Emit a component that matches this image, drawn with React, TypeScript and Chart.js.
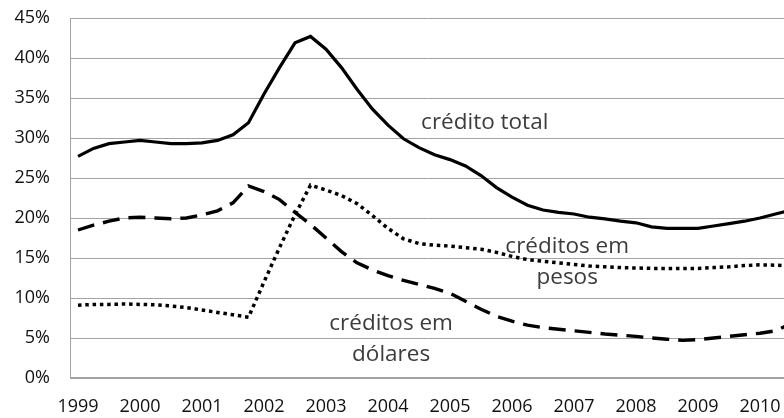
import { useEffect, useRef } from "react";
import { Chart, registerables } from "chart.js";

Chart.register(...registerables);

// Year tick labels (one every 4 quarterly observations)
const years = ["1999", "2000", "2001", "2002", "2003", "2004", "2005", "2006", "2007", "2008", "2009", "2010"];
const firstYear = 1999;

// Quarterly series, % (1999 Q1 ... 2010 Q3)
const creditoTotal = [
  27.7, 28.7, 29.3, 29.5, 29.7, 29.5, 29.3, 29.3, 29.4, 29.7, 30.4, 31.9,
  35.5, 38.8, 41.9, 42.7, 41.1, 38.8, 36.1, 33.6, 31.6, 29.9, 28.8, 27.9,
  27.3, 26.5, 25.3, 23.8, 22.6, 21.6, 21.0, 20.7, 20.5, 20.1, 19.9, 19.6,
  19.4, 18.9, 18.7, 18.7, 18.7, 19.0, 19.3, 19.6, 20.0, 20.5, 21.0,
];
const creditosDolares = [
  18.5, 19.1, 19.6, 20.0, 20.1, 20.0, 19.9, 20.0, 20.4, 20.9, 21.9, 24.0,
  23.3, 22.3, 20.7, 19.2, 17.5, 15.8, 14.4, 13.5, 12.8, 12.2, 11.7, 11.2,
  10.6, 9.6, 8.6, 7.7, 7.1, 6.6, 6.3, 6.1, 5.9, 5.7, 5.5, 5.35,
  5.2, 5.0, 4.85, 4.7, 4.8, 5.0, 5.2, 5.4, 5.6, 5.9, 6.8,
];
const creditosPesos = [
  9.1, 9.2, 9.2, 9.25, 9.2, 9.15, 9.0, 8.8, 8.5, 8.2, 7.9, 7.6,
  12.0, 16.3, 20.4, 24.1, 23.5, 22.8, 21.8, 20.3, 18.7, 17.4, 16.8, 16.6,
  16.5, 16.3, 16.1, 15.7, 15.2, 14.8, 14.6, 14.4, 14.2, 14.0, 13.9, 13.8,
  13.75, 13.7, 13.7, 13.7, 13.7, 13.8, 13.9, 14.05, 14.15, 14.1, 14.0,
];

// Text annotations placed in data coordinates (year, %)
const noteTexts = [["crédito total"], ["créditos em", "pesos"], ["créditos em", "dólares"]];
const noteYears = [2005.56, 2006.89, 2004.05];
const notePercents = [31.1, 15.6, 6.0];

const FONT = "'Open Sans', 'DejaVu Sans', sans-serif";

const notesPlugin = {
  id: "notes",
  afterDatasetsDraw(chart: any) {
    const { ctx, scales } = chart;
    ctx.save();
    ctx.font = `22.5px ${FONT}`;
    ctx.fillStyle = "#3c3c3c";
    ctx.textAlign = "center";
    ctx.textBaseline = "alphabetic";
    noteTexts.forEach((lines, i) => {
      const x = scales.x.getPixelForValue(noteYears[i]);
      const y = scales.y.getPixelForValue(notePercents[i]);
      lines.forEach((t, k) => ctx.fillText(t, x, y + k * 31));
    });
    ctx.restore();
  },
};

export default function App() {
  const ref = useRef<HTMLCanvasElement>(null);
  useEffect(() => {
    document.body.style.margin = "0";
    const toPts = (arr: number[]) => arr.map((v, i) => ({ x: firstYear + i / 4, y: v }));
    const chart = new Chart(ref.current as HTMLCanvasElement, {
      type: "line",
      data: {
        datasets: [
          {
            label: "crédito total",
            data: toPts(creditoTotal),
            borderColor: "#000",
            borderWidth: 3.2,
            pointRadius: 0,
            tension: 0,
          },
          {
            label: "créditos em dólares",
            data: toPts(creditosDolares),
            borderColor: "#000",
            borderWidth: 3.4,
            borderDash: [17, 9],
            pointRadius: 0,
            tension: 0,
          },
          {
            label: "créditos em pesos",
            data: toPts(creditosPesos),
            borderColor: "#000",
            borderWidth: 3.5,
            borderDash: [3.5, 3.8],
            pointRadius: 0,
            tension: 0,
          },
        ],
      },
      options: {
        animation: false,
        responsive: false,
        layout: { padding: { top: 18, right: 0, left: 0, bottom: 0 } },
        plugins: { legend: { display: false }, tooltip: { enabled: false } },
        scales: {
          x: {
            type: "linear",
            min: firstYear - 8 / 62,
            max: firstYear + 706 / 62,
            grid: { display: false, drawTicks: false },
            border: { display: false },
            afterBuildTicks: (s: any) => {
              s.ticks = years.map((y) => ({ value: Number(y) }));
            },
            afterFit: (s: any) => {
              s.height = 40;
              s.paddingLeft = 0;
              s.paddingRight = 0;
            },
            ticks: {
              callback: (v: any) => String(v),
              font: { family: FONT, size: 18 },
              color: "#111",
              padding: 18,
              maxRotation: 0,
              autoSkip: false,
            },
          },
          y: {
            min: 0,
            max: 45,
            afterFit: (s: any) => {
              s.width = 70;
            },
            ticks: {
              stepSize: 5,
              callback: (v: any) => `${v}%`,
              font: { family: FONT, size: 18 },
              color: "#111",
              padding: 0,
            },
            grid: {
              color: "#a3a3a3",
              lineWidth: (c: any) => (c.tick && c.tick.value === 0 ? 2 : 1),
              drawTicks: true,
              tickLength: 20,
              tickColor: "rgba(0,0,0,0)",
            },
            border: { color: "#a3a3a3", width: 1 },
          },
        },
      },
      plugins: [notesPlugin],
    });
    return () => chart.destroy();
  }, []);
  return <canvas ref={ref} width={784} height={418} style={{ display: "block" }} />;
}
